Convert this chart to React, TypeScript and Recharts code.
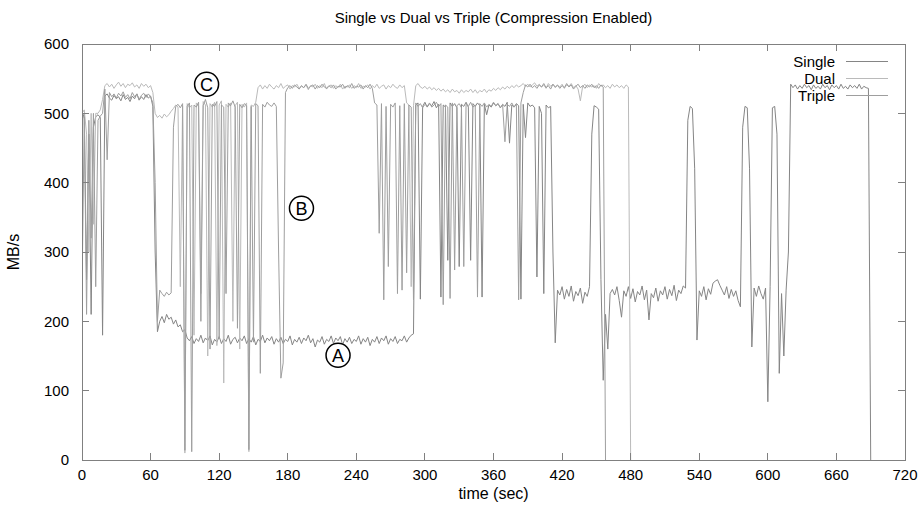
import React from "react";
import {
  LineChart,
  Line,
  XAxis,
  YAxis,
  Legend,
  ReferenceDot,
} from "recharts";

const FONT = "'Liberation Sans', Arial, Helvetica, sans-serif";
const STEP = 2; // sampling interval, seconds
const BORDER = "#808080";

const CHART_W = 922;
const CHART_H = 510;
const MARGIN = { top: 44, right: 17, bottom: 0, left: 0 };
const Y_AXIS_W = 82;
const X_AXIS_H = 50;
const PLOT = {
  left: MARGIN.left + Y_AXIS_W,
  top: MARGIN.top,
  width: CHART_W - MARGIN.left - MARGIN.right - Y_AXIS_W,
  height: CHART_H - MARGIN.top - MARGIN.bottom - X_AXIS_H,
};

const xTicks = [0, 60, 120, 180, 240, 300, 360, 420, 480, 540, 600, 660, 720];
const yTicks = [0, 100, 200, 300, 400, 500, 600];
const X_MAX = 720;
const Y_MAX = 600;
const TICK_PX = 7;

// MB/s every 2 s
const singleMBs = [
  490, 500, 260, 470, 210, 480, 495, 498, 494, 180,
  525, 528, 522, 519, 526, 521, 524, 518, 527, 520,
  523, 517, 525, 521, 528, 519, 524, 520, 527, 522,
  525, 510, 300, 185, 200, 207, 198, 210, 203, 206,
  196, 202, 192, 195, 185, 188, 176, 172, 178, 168,
  175, 171, 180, 169, 176, 172, 179, 166, 174, 170,
  178, 168, 175, 171, 180, 167, 174, 177, 169, 176,
  172, 179, 168, 175, 170, 178, 166, 174, 171, 180,
  169, 176, 172, 178, 167, 175, 170, 177, 168, 174,
  171, 179, 166, 174, 170, 177, 168, 176, 172, 180,
  169, 175, 163, 173, 170, 178, 167, 174, 171, 179,
  168, 176, 172, 178, 166, 175, 170, 177, 168, 174,
  171, 179, 167, 175, 170, 177, 165, 174, 170, 178,
  168, 176, 172, 179, 167, 175, 171, 178, 168, 174,
  172, 179, 170, 176, 180, 182, 512, 515, 232, 510,
  516, 509, 514, 511, 517, 508, 513, 235, 512, 509,
  288, 515, 510, 514, 508, 279, 513, 510, 516, 509,
  288, 514, 510, 515, 511, 235, 513, 498, 512, 509,
  515, 511, 514, 508, 513, 510, 516, 457, 512, 509,
  514, 511, 232, 513, 465, 515, 510, 512, 508, 264,
  510, 500, 240, 512, 508, 510, 300, 169, 245, 238,
  250, 232, 246, 236, 251, 229, 243, 237, 248, 226,
  242, 236, 250, 470, 511, 509, 506, 260, 115, 210,
  160, 240, 246, 238, 250, 230, 206, 244, 236, 250,
  233, 247, 228, 243, 238, 251, 231, 245, 202, 240,
  234, 248, 229, 244, 238, 250, 232, 246, 237, 252,
  230, 245, 240, 251, 248, 490, 510, 507, 420, 173,
  244, 236, 250, 231, 247, 239, 255, 258, 260, 252,
  245, 238, 250, 233, 246, 236, 244, 230, 221, 480,
  510, 508, 420, 163, 248, 236, 251, 240, 232, 248,
  84, 250, 508, 510, 470, 125, 240, 150, 245, 300,
  542, 537, 541, 535, 540, 536, 542, 537, 540, 534,
  541, 536, 539, 535, 542, 537, 540, 534, 541, 537,
  540, 535, 542, 536, 539, 535, 541, 537, 540, 536,
  542, 535, 539, 537, 536, 0,
];

const dualMBs = [
  500, 505, 470, 300, 500, 340, 500, 500, 505, 520,
  540, 543, 538, 542, 536, 541, 545, 539, 543, 537,
  542, 540, 544, 538, 541, 536, 543, 539, 542, 537,
  540, 530, 500, 494, 497, 493, 499, 495, 498, 503,
  507, 512, 509, 250, 511, 10, 514, 508, 512, 180,
  515, 510, 240, 517, 512, 150, 514, 509, 516, 165,
  512, 518, 111, 513, 509, 515, 200, 511, 516, 160,
  513, 509, 515, 12, 512, 510, 516, 537, 541, 535,
  540, 536, 542, 538, 535, 540, 537, 543, 536, 539,
  541, 535, 540, 538, 542, 536, 539, 537, 541, 534,
  540, 538, 542, 536, 540, 537, 543, 535, 539, 541,
  536, 540, 537, 542, 535, 539, 538, 541, 536, 540,
  537, 543, 536, 539, 538, 541, 535, 540, 537, 542,
  536, 539, 541, 535, 540, 537, 542, 538, 536, 541,
  537, 540, 515, 512, 250, 511, 540, 543, 538, 536,
  539, 535, 538, 534, 537, 533, 536, 532, 535, 531,
  534, 530, 535, 531, 533, 529, 534, 530, 533, 531,
  535, 530, 534, 529, 533, 531, 535, 530, 534, 532,
  536, 533, 537, 534, 538, 535, 539, 536, 540, 537,
  541, 538, 540, 543, 539, 542, 538, 541, 544, 539,
  542, 538, 541, 536, 543, 539, 542, 537, 540, 538,
  542, 536, 541, 539, 543, 537, 540, 535, 518, 539,
  542, 537, 541, 538, 540, 536, 543, 539, 541, 537,
  540, 536, 542, 538, 541, 537, 540, 536, 541, 538,
  0,
];

const tripleMBs = [
  240, 495, 210, 490, 320, 500, 250, 490, 496, 500,
  535, 433, 530, 524, 528, 522, 529, 525, 531, 523,
  527, 521, 530, 524, 528, 520, 526, 529, 523, 528,
  524, 515, 400, 200, 245, 240, 236, 242, 238, 241,
  480, 510, 513, 508, 514, 14, 510, 515, 12, 512,
  509, 516, 200, 511, 520, 508, 160, 513, 510, 517,
  175, 512, 509, 240, 515, 511, 518, 509, 190, 513,
  508, 514, 511, 15, 510, 170, 514, 511, 125, 513,
  509, 516, 512, 510, 515, 510, 300, 118, 140, 530,
  537, 540, 536, 541, 538, 535, 540, 537, 542, 536,
  539, 541, 535, 540, 537, 542, 538, 536, 540, 537,
  541, 535, 539, 538, 542, 536, 540, 537, 543, 536,
  539, 538, 541, 535, 540, 537, 542, 536, 515, 512,
  327, 514, 231, 510, 279, 513, 509, 515, 240, 511,
  245, 514, 270, 512, 509, 231, 515, 510, 514, 508,
  513, 510, 515, 509, 512, 516, 510, 514, 224, 512,
  509, 233, 515, 274, 511, 514, 508, 279, 513, 510,
  516, 509, 512, 235, 514, 510, 515, 509, 513, 510,
  516, 511, 514, 508, 512, 459, 513, 510, 515, 509,
  513, 231, 515, 530, 541, 538, 542, 537, 540, 536,
  541, 538, 543, 537, 540, 535, 542, 538, 541, 536,
  540, 537, 543, 538, 541, 535, 539, 542, 537, 540,
  536, 541, 538, 542, 537, 540, 536, 541, 538, 0,
];

const seriesNames = ["Single", "Dual", "Triple"];
const seriesColors = ["#858585", "#bababa", "#9e9e9e"];

const annotations = [
  { label: "A", t: 224, v: 151 },
  { label: "B", t: 192, v: 363 },
  { label: "C", t: 109, v: 542 },
];

const toPoints = (vals: number[]) => vals.map((v, i) => ({ t: i * STEP, v }));

const seriesData = [toPoints(singleMBs), toPoints(dualMBs), toPoints(tripleMBs)];

// gnuplot-style frame with inward tick marks on all four sides
function Frame() {
  const px = (t: number) => PLOT.left + (t / X_MAX) * PLOT.width;
  const py = (v: number) => PLOT.top + PLOT.height - (v / Y_MAX) * PLOT.height;
  const r = PLOT.left + PLOT.width;
  const b = PLOT.top + PLOT.height;
  return (
    <svg
      width={CHART_W}
      height={CHART_H}
      style={{ position: "absolute", left: 0, top: 0, pointerEvents: "none" }}
    >
      <g stroke={BORDER} strokeWidth={1} fill="none" shapeRendering="crispEdges">
        <rect x={PLOT.left} y={PLOT.top} width={PLOT.width} height={PLOT.height} />
        {xTicks.map((t) => (
          <g key={`x${t}`}>
            <line x1={px(t)} y1={b} x2={px(t)} y2={b - TICK_PX} />
            <line x1={px(t)} y1={PLOT.top} x2={px(t)} y2={PLOT.top + TICK_PX} />
          </g>
        ))}
        {yTicks.map((v) => (
          <g key={`y${v}`}>
            <line x1={PLOT.left} y1={py(v)} x2={PLOT.left + TICK_PX} y2={py(v)} />
            <line x1={r} y1={py(v)} x2={r - TICK_PX} y2={py(v)} />
          </g>
        ))}
      </g>
    </svg>
  );
}

const renderLegend = (props: any) => {
  const items = [...(props.payload || [])].sort(
    (a: any, b: any) => seriesNames.indexOf(a.value) - seriesNames.indexOf(b.value)
  );
  return (
    <div style={{ fontFamily: FONT, fontSize: 15, color: "#000", width: 150 }}>
      {items.map((p: any) => (
        <div
          key={p.value}
          style={{ display: "flex", alignItems: "center", justifyContent: "flex-end", height: 17 }}
        >
          <span>{p.value}</span>
          <svg width={42} height={3} style={{ marginLeft: 11 }}>
            <line x1={0} y1={1.5} x2={42} y2={1.5} stroke={p.color} strokeWidth={1} />
          </svg>
        </div>
      ))}
    </div>
  );
};

export default function App() {
  return (
    <div style={{ position: "relative", width: CHART_W, height: CHART_H, background: "#fff", fontFamily: FONT }}>
      <style>{"body{margin:0}"}</style>
      <div
        style={{
          position: "absolute",
          top: 9,
          left: PLOT.left,
          width: PLOT.width,
          textAlign: "center",
          fontSize: 15,
          color: "#000",
        }}
      >
        Single vs Dual vs Triple (Compression Enabled)
      </div>
      <div
        style={{
          position: "absolute",
          left: 14,
          top: 252,
          transform: "translate(-50%, -50%) rotate(-90deg)",
          fontSize: 16,
          color: "#000",
          whiteSpace: "nowrap",
        }}
      >
        MB/s
      </div>
      <div
        style={{
          position: "absolute",
          top: 485,
          left: PLOT.left,
          width: PLOT.width,
          textAlign: "center",
          fontSize: 16,
          color: "#000",
        }}
      >
        time (sec)
      </div>
      <LineChart width={CHART_W} height={CHART_H} margin={MARGIN}>
        <XAxis
          type="number"
          dataKey="t"
          domain={[0, X_MAX]}
          ticks={xTicks}
          allowDataOverflow
          height={X_AXIS_H}
          tickSize={0}
          tickMargin={9}
          tickLine={false}
          axisLine={false}
          tick={{ fill: "#000", fontSize: 15, fontFamily: FONT }}
        />
        <YAxis
          type="number"
          domain={[0, Y_MAX]}
          ticks={yTicks}
          allowDataOverflow
          width={Y_AXIS_W}
          tickSize={0}
          tickMargin={13}
          tickLine={false}
          axisLine={false}
          tick={{ fill: "#000", fontSize: 15, fontFamily: FONT }}
        />
        <Legend
          layout="vertical"
          align="center"
          verticalAlign="middle"
          content={renderLegend}
          wrapperStyle={{ position: "absolute", top: 53, left: 738, right: "auto", width: 150 }}
        />
        {seriesNames.map((name, i) => (
          <Line
            key={name}
            name={name}
            data={seriesData[i]}
            dataKey="v"
            type="linear"
            stroke={seriesColors[i]}
            strokeWidth={1}
            dot={false}
            activeDot={false}
            isAnimationActive={false}
          />
        ))}
        {annotations.map((a) => (
          <ReferenceDot
            key={a.label}
            x={a.t}
            y={a.v}
            r={12}
            fill="#fff"
            stroke="#000"
            strokeWidth={1.5}
            label={{ value: a.label, position: "center", fontSize: 18, fill: "#000", fontFamily: FONT }}
          />
        ))}
      </LineChart>
      <Frame />
    </div>
  );
}
